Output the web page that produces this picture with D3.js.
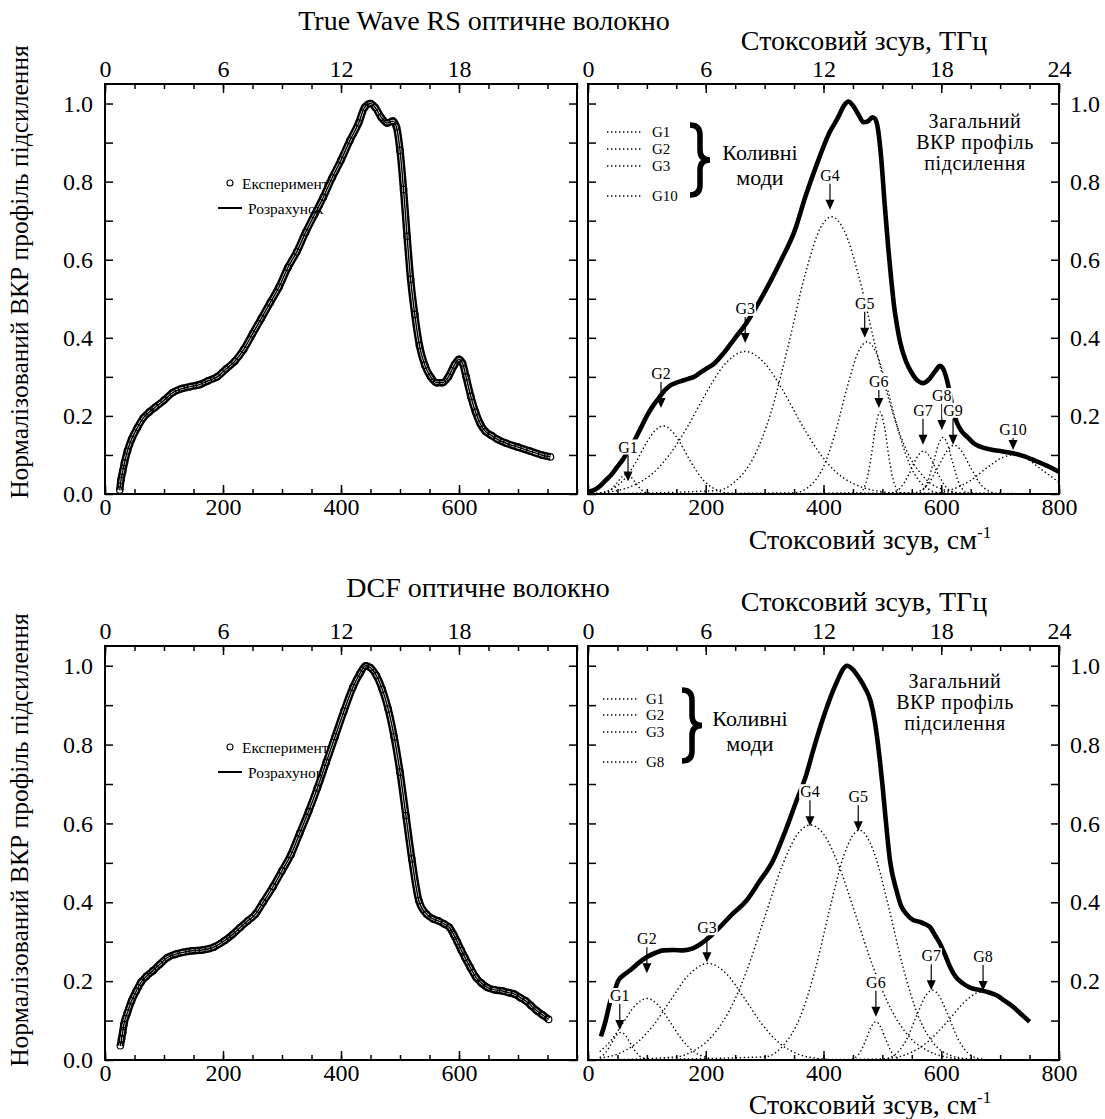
<!DOCTYPE html>
<html>
<head>
<meta charset="utf-8">
<script src="https://cdn.jsdelivr.net/npm/d3@7"></script>
<style>
  body { margin: 0; background: #fff; }
  text { font-family: "Liberation Serif", "Times New Roman", serif; fill: #000; }
</style>
</head>
<body>
<svg id="chart" width="1105" height="1119"></svg>
<script>
// ---------- data ----------
// True Wave RS: measured / fitted gain profile (left panel)
var twShift = [25,27,30,33,38,45,55,65,75,85,100,115,130,145,160,175,190,205,220,235,250,265,280,295,310,325,340,355,370,385,400,415,430,440,450,458,468,478,488,494,500,506,512,518,525,533,542,552,562,572,582,592,600,606,612,620,628,636,645,655,665,680,700,720,740,755];
var twGain = [0.01,0.035,0.058,0.08,0.11,0.14,0.17,0.195,0.21,0.222,0.24,0.26,0.27,0.275,0.28,0.29,0.30,0.32,0.34,0.37,0.41,0.45,0.49,0.53,0.58,0.62,0.67,0.715,0.76,0.81,0.855,0.905,0.95,0.99,1.0,0.99,0.965,0.95,0.955,0.94,0.88,0.78,0.66,0.55,0.46,0.38,0.33,0.30,0.285,0.285,0.30,0.33,0.345,0.335,0.30,0.25,0.21,0.18,0.16,0.15,0.14,0.13,0.12,0.11,0.10,0.095];

// True Wave RS: total profile of the decomposition (right panel)
var twTotalShift = [0,10,20,30,40,50,60,70,80,90,100,110,120,130,140,150,160,170,180,190,200,215,230,250,270,290,310,330,350,370,390,410,425,435,442,450,460,468,476,483,488,493,498,504,510,515,520,525,530,540,550,560,570,580,590,598,605,610,615,620,626,635,645,655,665,680,700,720,740,760,780,800];
var twTotalGain = [0.005,0.01,0.02,0.035,0.05,0.07,0.09,0.115,0.14,0.17,0.2,0.225,0.245,0.265,0.278,0.285,0.29,0.295,0.30,0.31,0.32,0.335,0.36,0.40,0.44,0.49,0.545,0.605,0.67,0.765,0.85,0.925,0.965,0.995,1.005,0.995,0.97,0.952,0.955,0.965,0.96,0.93,0.86,0.74,0.63,0.55,0.48,0.43,0.39,0.34,0.31,0.29,0.284,0.295,0.315,0.328,0.315,0.29,0.255,0.215,0.185,0.16,0.145,0.13,0.122,0.115,0.11,0.105,0.097,0.085,0.072,0.057];

// True Wave RS: vibrational modes G1..G10
var twModes = [
  { name: 'G1',  shift: [0,30,40,50,58,65,72,80,90,100,115,800], gain: [0,0.003,0.012,0.03,0.045,0.05,0.045,0.03,0.012,0.003,0,0] },
  { name: 'G2',  shift: [0,20,40,60,80,100,115,128,140,155,175,195,215,240,270,800], gain: [0,0.003,0.012,0.035,0.078,0.133,0.164,0.174,0.165,0.135,0.081,0.037,0.013,0.002,0,0] },
  { name: 'G3',  shift: [0,40,80,110,140,170,200,230,267,300,330,360,390,420,450,490,540,800], gain: [0.001,0.006,0.024,0.053,0.104,0.175,0.257,0.328,0.365,0.335,0.268,0.186,0.112,0.058,0.027,0.008,0.001,0] },
  { name: 'G4',  shift: [0,220,250,280,310,340,370,395,414,435,460,485,510,540,570,600,640,800], gain: [0,0.009,0.032,0.09,0.205,0.379,0.569,0.682,0.71,0.675,0.557,0.398,0.247,0.115,0.044,0.013,0.002,0] },
  { name: 'G5',  shift: [0,350,380,400,420,440,458,474,490,508,528,548,568,598,800], gain: [0,0.003,0.025,0.07,0.157,0.272,0.36,0.39,0.36,0.272,0.157,0.07,0.025,0.003,0] },
  { name: 'G6',  shift: [0,460,472,480,488,496,504,512,520,532,800], gain: [0,0.002,0.028,0.086,0.168,0.21,0.168,0.086,0.028,0.002,0] },
  { name: 'G7',  shift: [0,510,530,545,558,570,582,595,610,630,800], gain: [0,0.001,0.015,0.05,0.092,0.11,0.092,0.05,0.015,0.001,0] },
  { name: 'G8',  shift: [0,560,575,588,596,603,610,618,631,646,800], gain: [0,0.002,0.025,0.088,0.13,0.145,0.13,0.088,0.025,0.002,0] },
  { name: 'G9',  shift: [0,550,575,595,610,622,634,649,669,694,800], gain: [0,0.002,0.021,0.07,0.111,0.125,0.111,0.07,0.021,0.002,0] },
  { name: 'G10', shift: [0,580,620,650,680,705,722,740,770,800], gain: [0,0.002,0.0125,0.035,0.07,0.094,0.1,0.094,0.063,0.03] }
];
// arrow annotations: [label, shift cm-1, gain at arrow tip]
var twArrows = [['G1',68,0.032],['G2',124,0.22],['G3',267,0.387],['G4',411,0.728],['G5',470,0.40],['G6',494,0.22],['G7',569,0.126],['G8',601,0.164],['G9',620,0.126],['G10',722,0.113]];
var twLegend = ['G1','G2','G3','G10'];

// DCF: measured / fitted gain profile (left panel)
var dcShift = [26,28,30,32,38,45,53,61,70,81,93,106,119,132,148,165,184,203,216,229,242,255,268,285,300,315,330,345,360,375,390,405,420,432,442,450,460,470,480,490,500,510,520,532,545,556,565,575,584,591,597,604,610,619,629,638,648,660,674,684,694,704,713,722,732,742,752];
var dcGain = [0.036,0.053,0.07,0.09,0.12,0.15,0.175,0.197,0.212,0.226,0.243,0.26,0.268,0.273,0.277,0.279,0.286,0.303,0.318,0.336,0.353,0.37,0.40,0.44,0.48,0.52,0.575,0.63,0.69,0.755,0.82,0.885,0.945,0.98,1.0,0.995,0.975,0.94,0.89,0.82,0.73,0.62,0.51,0.404,0.37,0.358,0.353,0.345,0.336,0.318,0.30,0.278,0.26,0.235,0.209,0.195,0.184,0.178,0.175,0.171,0.167,0.158,0.15,0.138,0.125,0.114,0.103];

// DCF: total profile of the decomposition (right panel)
var dcTotalShift = [22,30,37,45,51,60,71,85,100,115,128,145,162,178,190,205,224,245,269,290,314,335,354,370,382,400,420,440,450,460,470,480,487,495,500,505,513,524,532,541,552,564,572,581,590,598,607,615,625,637,650,666,680,694,708,722,736,750];
var dcTotalGain = [0.06,0.10,0.144,0.175,0.2,0.215,0.227,0.245,0.261,0.272,0.278,0.279,0.278,0.283,0.293,0.31,0.337,0.37,0.404,0.45,0.505,0.58,0.657,0.72,0.783,0.87,0.95,1.0,0.99,0.97,0.945,0.91,0.86,0.77,0.70,0.62,0.505,0.43,0.39,0.37,0.355,0.35,0.345,0.337,0.315,0.295,0.265,0.236,0.21,0.194,0.183,0.177,0.172,0.164,0.15,0.135,0.116,0.097];

// DCF: vibrational modes G1..G8
var dcModes = [
  { name: 'G1', shift: [20,30,40,48,56,64,72,82,92,110,690], gain: [0.006,0.019,0.042,0.062,0.07,0.062,0.042,0.019,0.006,0,0] },
  { name: 'G2', shift: [20,40,60,80,100,120,140,160,180,200,225,690], gain: [0.021,0.051,0.095,0.138,0.156,0.138,0.095,0.051,0.021,0.007,0.001,0] },
  { name: 'G3', shift: [20,50,80,110,140,170,204,235,265,295,325,355,390,430,690], gain: [0.005,0.015,0.04,0.086,0.151,0.214,0.245,0.219,0.158,0.092,0.043,0.016,0.004,0,0] },
  { name: 'G4', shift: [20,150,180,210,240,270,300,330,355,378,400,425,455,485,515,545,575,610,650,690], gain: [0,0.008,0.024,0.059,0.125,0.228,0.362,0.493,0.571,0.596,0.573,0.497,0.366,0.233,0.128,0.06,0.025,0.007,0.001,0] },
  { name: 'G5', shift: [20,300,330,360,385,410,435,461,485,510,535,560,585,615,650,690], gain: [0,0.008,0.034,0.108,0.224,0.379,0.521,0.583,0.53,0.392,0.236,0.115,0.046,0.012,0.002,0] },
  { name: 'G6', shift: [20,445,460,472,480,489,498,506,518,533,690], gain: [0,0.001,0.015,0.051,0.081,0.097,0.081,0.051,0.015,0.001,0] },
  { name: 'G7', shift: [20,500,520,540,560,575,585,595,610,630,650,670,690], gain: [0,0.002,0.012,0.049,0.119,0.166,0.177,0.166,0.119,0.049,0.012,0.002,0] },
  { name: 'G8', shift: [20,480,520,550,580,610,640,660,675], gain: [0,0.001,0.006,0.02,0.05,0.097,0.148,0.17,0.175] }
];
var dcArrows = [['G1',54,0.076],['G2',100,0.22],['G3',202,0.248],['G4',377,0.593],['G5',459,0.58],['G6',489,0.11],['G7',583,0.177],['G8',671,0.175]];
var dcLegend = ['G1','G2','G3','G8'];

var tenths = d3.range(11).map(function (i) { return i / 10; });
var yTitle = 'Нормалізований ВКР профіль підсилення';

// ---------- drawing ----------
var svg = d3.select('#chart');
var serif = '"Liberation Serif","Times New Roman",serif';
var clipId = 0;

function styleAxis(g) {
  g.attr('font-family', serif).attr('font-size', 24);
  g.select('.domain').remove();
  g.selectAll('line').attr('stroke', '#000').attr('stroke-width', 1.5);
  g.selectAll('text').attr('fill', '#000').style('font-size', '24px');
}

function panel(x0, x1, y0, y1, o) {
  var x = d3.scaleLinear().domain([0, 800]).range([x0, x1]);
  var xt = d3.scaleLinear().domain([0, 24]).range([x0, x1]);
  var y = d3.scaleLinear().domain([0, 1.05]).range([y1, y0]);
  var g = svg.append('g');

  var fmtY = function (d) {
    var k = Math.round(d * 10);
    if (k % 2) return '';
    if (k === 0 && !o.zeroLabel) return '';
    return d3.format('.1f')(d);
  };
  var none = function () { return ''; };

  g.append('g').attr('transform', 'translate(' + x0 + ',0)')
    .call(d3.axisLeft(y).tickValues(tenths).tickSizeInner(-8).tickSizeOuter(0).tickPadding(12)
      .tickFormat(o.leftLabels ? fmtY : none))
    .call(styleAxis);
  g.append('g').attr('transform', 'translate(' + x1 + ',0)')
    .call(d3.axisRight(y).tickValues(tenths).tickSizeInner(-8).tickSizeOuter(0).tickPadding(11)
      .tickFormat(o.rightLabels ? fmtY : none))
    .call(styleAxis);

  g.append('g').attr('transform', 'translate(0,' + y1 + ')')
    .call(d3.axisBottom(x).tickValues(d3.range(0, 801, 50)).tickSizeInner(-5).tickSizeOuter(0).tickFormat(none))
    .call(styleAxis);
  g.append('g').attr('transform', 'translate(0,' + y1 + ')')
    .call(d3.axisBottom(x).tickValues(o.bottomTicks).tickSizeInner(-9).tickSizeOuter(0).tickPadding(4).tickFormat(d3.format('d')))
    .call(styleAxis);

  g.append('g').attr('transform', 'translate(0,' + y0 + ')')
    .call(d3.axisTop(xt).tickValues(d3.range(0, 24.1, 1.5)).tickSizeInner(-5).tickSizeOuter(0).tickFormat(none))
    .call(styleAxis);
  g.append('g').attr('transform', 'translate(0,' + y0 + ')')
    .call(d3.axisTop(xt).tickValues(o.topTicks).tickSizeInner(-9).tickSizeOuter(0).tickPadding(7).tickFormat(d3.format('d')))
    .call(styleAxis);

  g.append('rect').attr('x', x0).attr('y', y0).attr('width', x1 - x0).attr('height', y1 - y0)
    .attr('fill', 'none').attr('stroke', '#000').attr('stroke-width', 2);

  var id = 'clip' + (clipId++);
  svg.append('clipPath').attr('id', id).append('rect')
    .attr('x', x0).attr('y', y0).attr('width', x1 - x0).attr('height', y1 - y0);
  var plot = svg.append('g').attr('clip-path', 'url(#' + id + ')');
  return { g: g, plot: plot, x: x, y: y };
}

function pairs(xs, ys) { return xs.map(function (d, i) { return [d, ys[i]]; }); }

function lineGen(p) {
  return d3.line().x(function (d) { return p.x(d[0]); }).y(function (d) { return p.y(d[1]); }).curve(d3.curveMonotoneX);
}

function experimentPanel(p, xs, ys, legendY) {
  var pts = pairs(xs, ys), line = lineGen(p);
  // dense chain of open circles -> dark band with a light core
  p.plot.append('path').attr('d', line(pts)).attr('fill', 'none').attr('stroke', '#000').attr('stroke-width', 7.5);
  p.plot.append('path').attr('d', line(pts)).attr('fill', 'none').attr('stroke', '#fff').attr('stroke-width', 2.6);
  p.plot.selectAll('circle.exp').data(pts).enter().append('circle').attr('class', 'exp')
    .attr('cx', function (d) { return p.x(d[0]); }).attr('cy', function (d) { return p.y(d[1]); })
    .attr('r', 3.2).attr('fill', 'none').attr('stroke', '#000').attr('stroke-width', 1.2);
  p.plot.append('path').attr('d', line(pts)).attr('fill', 'none').attr('stroke', '#000').attr('stroke-width', 1.4);

  // legend
  svg.append('circle').attr('cx', 230).attr('cy', legendY).attr('r', 3)
    .attr('fill', '#fff').attr('stroke', '#000').attr('stroke-width', 1.1);
  svg.append('text').attr('x', 242).attr('y', legendY + 6).style('font-size', '15.5px').text('Експеримент');
  svg.append('line').attr('x1', 218).attr('x2', 242).attr('y1', legendY + 25).attr('y2', legendY + 25)
    .attr('stroke', '#000').attr('stroke-width', 2);
  svg.append('text').attr('x', 248).attr('y', legendY + 31).style('font-size', '15.5px').text('Розрахунок');
}

function modesPanel(p, totX, totY, modes, arrows, shortLen, legend, L) {
  var line = lineGen(p);
  modes.forEach(function (m) {
    p.plot.append('path').attr('d', line(pairs(m.shift, m.gain))).attr('fill', 'none')
      .attr('stroke', '#000').attr('stroke-width', 1.4).attr('stroke-dasharray', '1.4,2.6');
  });
  p.plot.append('path').attr('d', line(pairs(totX, totY))).attr('fill', 'none')
    .attr('stroke', '#000').attr('stroke-width', 4.6).attr('stroke-linejoin', 'round');

  var ann = svg.append('g');
  arrows.forEach(function (a) {
    var len = shortLen[a[0]] || 26;
    var tx = p.x(a[1]), ty = p.y(a[2]);
    ann.append('line').attr('x1', tx).attr('x2', tx).attr('y1', ty - len).attr('y2', ty - 8)
      .attr('stroke', '#000').attr('stroke-width', 1.2);
    ann.append('path').attr('d', 'M' + (tx - 4.5) + ',' + (ty - 10) + 'L' + (tx + 4.5) + ',' + (ty - 10) + 'L' + tx + ',' + ty + 'Z')
      .attr('fill', '#000');
    var t = ann.append('text').attr('x', tx).attr('y', ty - len - 3).attr('text-anchor', 'middle')
      .style('font-size', '16px').text(a[0]);
    var b = t.node().getBBox();
    ann.insert('rect', function () { return t.node(); })
      .attr('x', b.x - 1).attr('y', b.y + 1).attr('width', b.width + 2).attr('height', b.height - 2).attr('fill', '#fff');
  });

  // mode legend
  legend.forEach(function (name, i) {
    var ly = L.ys[i];
    svg.append('line').attr('x1', L.lx0).attr('x2', L.lx0 + 34).attr('y1', ly).attr('y2', ly)
      .attr('stroke', '#000').attr('stroke-width', 1.4).attr('stroke-dasharray', '1.4,2.6');
    svg.append('text').attr('x', L.tx).attr('y', ly + 5).style('font-size', '15px').text(name);
  });
  var bx = L.bx, b0 = L.b0, b1 = L.b1, bm = (b0 + b1) / 2, w = 20, r = 10;
  svg.append('path')
    .attr('d', 'M' + bx + ',' + b0 + 'Q' + (bx + w / 2) + ',' + b0 + ' ' + (bx + w / 2) + ',' + (b0 + r) +
      'L' + (bx + w / 2) + ',' + (bm - r) + 'Q' + (bx + w / 2) + ',' + bm + ' ' + (bx + w) + ',' + bm +
      'Q' + (bx + w / 2) + ',' + bm + ' ' + (bx + w / 2) + ',' + (bm + r) +
      'L' + (bx + w / 2) + ',' + (b1 - r) + 'Q' + (bx + w / 2) + ',' + b1 + ' ' + bx + ',' + b1)
    .attr('fill', 'none').attr('stroke', '#000').attr('stroke-width', 5.5);
  svg.append('text').attr('x', L.kx).attr('y', L.ky).attr('text-anchor', 'middle').style('font-size', '22px').text('Коливні');
  svg.append('text').attr('x', L.kx).attr('y', L.ky + 25).attr('text-anchor', 'middle').style('font-size', '22px').text('моди');
  ['Загальний', 'ВКР профіль', 'підсилення'].forEach(function (s, i) {
    svg.append('text').attr('x', L.zx).attr('y', L.zy + i * 21).attr('text-anchor', 'middle')
      .style('font-size', '20px').style('letter-spacing', '0.6px').text(s);
  });
}

function titles(cx, ty, title, thzY, cmY, yTitleY) {
  svg.append('text').attr('x', cx).attr('y', ty).attr('text-anchor', 'middle').style('font-size', '28px').text(title);
  svg.append('text').attr('x', 864).attr('y', thzY).attr('text-anchor', 'middle').style('font-size', '28px').text('Стоксовий зсув, ТГц');
  var t = svg.append('text').attr('x', 870).attr('y', cmY).attr('text-anchor', 'middle').style('font-size', '28px');
  t.append('tspan').text('Стоксовий зсув, см');
  t.append('tspan').attr('dy', -11).style('font-size', '17px').text('-1');
  svg.append('text').attr('transform', 'translate(28,' + yTitleY + ') rotate(-90)').attr('text-anchor', 'middle')
    .style('font-size', '25.5px').text(yTitle);
}

// top row: True Wave RS
var tl = panel(105, 577, 84, 494, { leftLabels: true, rightLabels: false, zeroLabel: true, bottomTicks: [0, 200, 400, 600], topTicks: [0, 6, 12, 18] });
var tr = panel(588, 1059, 84, 494, { leftLabels: false, rightLabels: true, zeroLabel: false, bottomTicks: [0, 200, 400, 600, 800], topTicks: [0, 6, 12, 18, 24] });
experimentPanel(tl, twShift, twGain, 183);
modesPanel(tr, twTotalShift, twTotalGain, twModes, twArrows, { G6: 18, G10: 12 }, twLegend,
  { ys: [132, 149, 166, 196], lx0: 607, tx: 652, bx: 690, b0: 125, b1: 195, kx: 760, ky: 160, zx: 975, zy: 128 });
titles(484, 30, 'True Wave RS оптичне волокно', 50, 549, 272);

// bottom row: DCF
var bl = panel(105, 577, 646, 1060, { leftLabels: true, rightLabels: false, zeroLabel: true, bottomTicks: [0, 200, 400, 600], topTicks: [0, 6, 12, 18] });
var br = panel(588, 1059, 646, 1060, { leftLabels: false, rightLabels: true, zeroLabel: false, bottomTicks: [0, 200, 400, 600, 800], topTicks: [0, 6, 12, 18, 24] });
experimentPanel(bl, dcShift, dcGain, 747);
modesPanel(br, dcTotalShift, dcTotalGain, dcModes, dcArrows, {}, dcLegend,
  { ys: [699, 715, 732, 762], lx0: 603, tx: 646, bx: 682, b0: 690, b1: 761, kx: 750, ky: 726, zx: 955, zy: 688 });
titles(478, 597, 'DCF оптичне волокно', 611, 1114, 840);
</script>
</body>
</html>
